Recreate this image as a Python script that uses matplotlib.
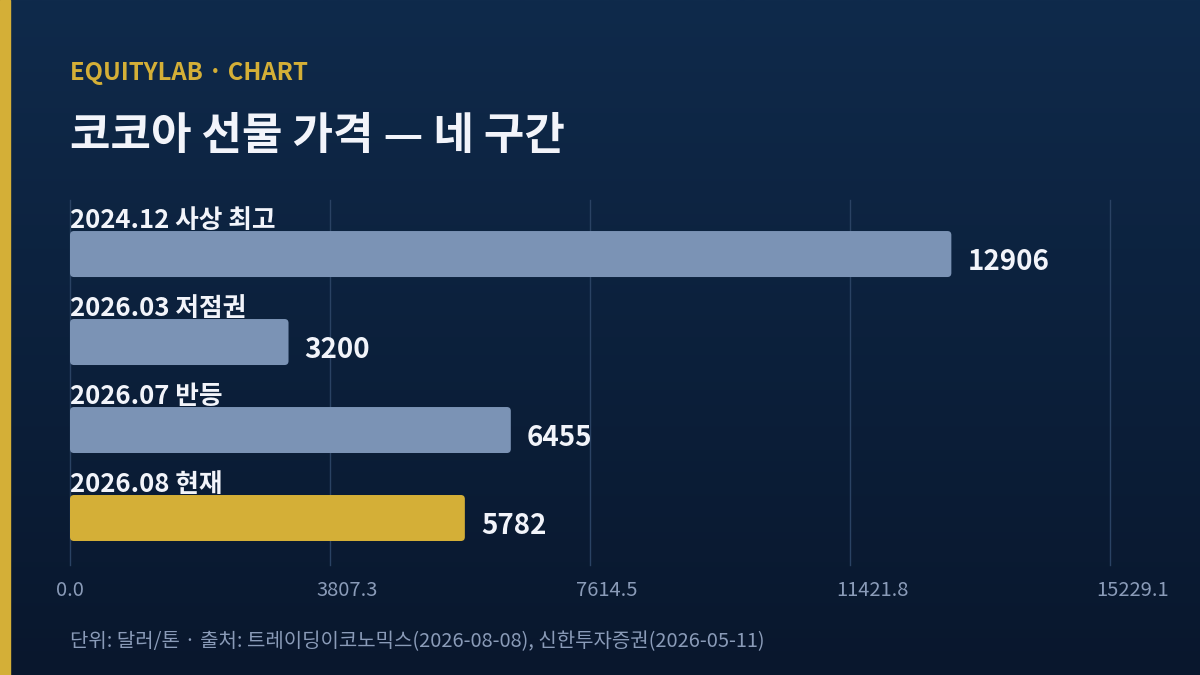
import numpy as np
import matplotlib
matplotlib.use('Agg')
import matplotlib.pyplot as plt
import matplotlib.transforms as mtransforms
from matplotlib.colors import LinearSegmentedColormap
from matplotlib.patches import FancyBboxPatch

plt.rcParams['font.family'] = ['Noto Sans CJK KR', 'DejaVu Sans']

# data
categories = ['2024.12 사상 최고', '2026.03 저점권', '2026.07 반등', '2026.08 현재']
prices = [12906, 3200, 6455, 5782]
highlight = [False, False, False, True]
x_max = 15229.1
tick_values = [0.0, 3807.3, 7614.5, 11421.8, 15229.1]

kicker = 'EQUITYLAB · CHART'
title = '코코아 선물 가격 — 네 구간'
footer = '단위: 달러/톤 · 출처: 트레이딩이코노믹스(2026-08-08), 신한투자증권(2026-05-11)'

W, H, DPI = 1200, 675, 100
fig = plt.figure(figsize=(W / DPI, H / DPI), dpi=DPI)

# background gradient
bg = fig.add_axes([0, 0, 1, 1], zorder=-10)
grad = np.linspace(0, 1, 256).reshape(-1, 1)
cmap = LinearSegmentedColormap.from_list('bg', ['#0f2a4b', '#09172d'])
bg.imshow(grad, aspect='auto', cmap=cmap, extent=[0, 1, 0, 1])
bg.axis('off')
# gold strip on the left
bg.axvspan(0, 10 / W, color='#d4af37')
bg.set_xlim(0, 1)
bg.set_ylim(0, 1)

def px(x, y):
    return x / W, 1 - y / H

fig.text(*px(70, 80), kicker, color='#d4af37', fontsize=17.2, fontweight='bold', va='baseline')
fig.text(*px(70, 149), title, color='#f2f4fa', fontsize=31.7, fontweight='bold', va='baseline')
fig.text(*px(70, 647), footer, color='#8a9bb8', fontsize=14.4, va='baseline')

# main axes
ax_w, ax_h = 1040, 365
ax = fig.add_axes([70 / W, (H - 565) / H, ax_w / W, ax_h / H])
ax.set_facecolor('none')
n = len(categories)
ypos = np.arange(n)
bar_h = 46 / 88
y_lo, y_hi = n - 1 + 0.534, -0.614
colors = ['#d4af37' if h else '#7b93b5' for h in highlight]
bars = ax.barh(ypos, prices, height=bar_h, color=colors, zorder=3)
ax.set_xlim(0, x_max)
ax.set_ylim(y_lo, y_hi)

# rounded corners: swap each bar for a rounded box of the same geometry
x_per_px = x_max / ax_w
y_per_px = abs(y_lo - y_hi) / ax_h
for rect, c in zip(bars, colors):
    rect.set_visible(False)
    ax.add_patch(FancyBboxPatch(
        (rect.get_x(), rect.get_y()), rect.get_width(), rect.get_height(),
        boxstyle=f'round,pad=0,rounding_size={4 * x_per_px}',
        mutation_aspect=y_per_px / x_per_px,
        facecolor=c, edgecolor='none', zorder=3))

ax.set_xticks(tick_values)
ax.set_xticklabels([f'{v:.1f}' for v in tick_values])
ax.set_yticks([])
ax.tick_params(axis='x', length=0, pad=11, colors='#8a9bb8', labelsize=14.5)
ax.grid(axis='x', color='#2a4263', linewidth=1, zorder=0)
for line in ax.get_xgridlines():
    line.set_clip_on(False)
shift = mtransforms.ScaledTranslation(-14 / DPI, 0, fig.dpi_scale_trans)
for lab in ax.get_xticklabels():
    lab.set_horizontalalignment('left')
    lab.set_transform(lab.get_transform() + shift)
for s in ax.spines.values():
    s.set_visible(False)

lab_off = mtransforms.offset_copy(ax.transData, fig=fig, x=0, y=3, units='dots')
val_off = mtransforms.offset_copy(ax.transData, fig=fig, x=16, y=-8, units='dots')
for i, (cat, v) in enumerate(zip(categories, prices)):
    ax.text(0, i - bar_h / 2, cat, transform=lab_off, color='#f2f4fa',
            fontsize=18.5, fontweight='bold', va='baseline', ha='left')
    ax.text(v, i, f'{v}', transform=val_off, color='#f2f4fa',
            fontsize=20, fontweight='bold', va='center', ha='left')

fig.savefig('out.png', dpi=DPI)
